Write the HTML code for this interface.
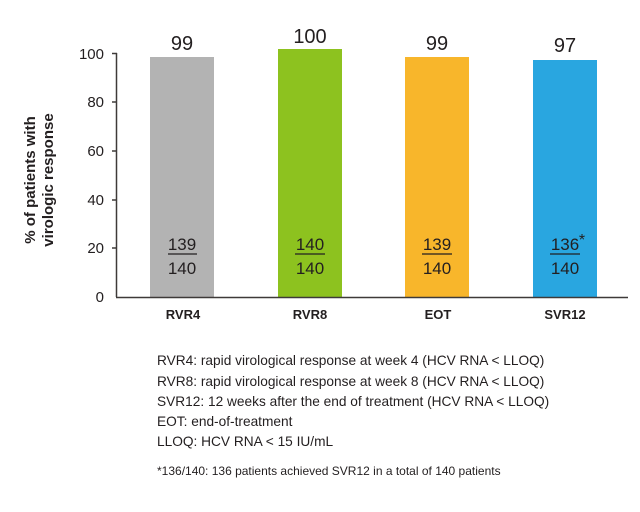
<!DOCTYPE html>
<html><head><style>body{margin:0;background:#fff}svg{display:block}</style></head><body>
<svg width="640" height="512" xmlns="http://www.w3.org/2000/svg" font-family="Liberation Sans, sans-serif" fill="#231f20">
<rect x="150" y="57" width="64" height="240" fill="#b3b3b3"/>
<rect x="278" y="49" width="64" height="248" fill="#8dc21f"/>
<rect x="405" y="57" width="64" height="240" fill="#f8b62b"/>
<rect x="533" y="60" width="64" height="237" fill="#29a6e0"/>
<g stroke="#3e3a39" stroke-width="1.5">
<line x1="116.5" y1="53" x2="116.5" y2="297"/>
<line x1="116" y1="297.5" x2="628" y2="297.5"/>
<line x1="112" y1="53.5" x2="117" y2="53.5"/>
<line x1="112" y1="102" x2="117" y2="102"/>
<line x1="112" y1="151" x2="117" y2="151"/>
<line x1="112" y1="200" x2="117" y2="200"/>
<line x1="112" y1="248" x2="117" y2="248"/>
</g>
<g font-size="15" text-anchor="end">
<text x="104" y="59">100</text><text x="104" y="107">80</text><text x="104" y="156">60</text>
<text x="104" y="205">40</text><text x="104" y="253">20</text><text x="104" y="302">0</text>
</g>
<g font-size="15" font-weight="bold" text-anchor="middle" transform="rotate(-90)">
<text x="-180" y="35">% of patients with</text><text x="-180" y="53">virologic response</text>
</g>
<g font-size="20" text-anchor="middle">
<text x="182" y="50">99</text><text x="310" y="43">100</text><text x="437" y="50">99</text><text x="565" y="52">97</text>
</g>
<g font-size="17" text-anchor="middle">
<text x="182" y="250">139</text><text x="182" y="274">140</text>
<text x="310" y="250">140</text><text x="310" y="274">140</text>
<text x="437" y="250">139</text><text x="437" y="274">140</text>
<text x="565" y="250">136</text><text x="565" y="274">140</text>
<text x="582" y="245" font-size="16">*</text>
</g>
<g stroke="#231f20" stroke-width="1.2">
<line x1="168" y1="254" x2="197" y2="254"/><line x1="295" y1="254" x2="325" y2="254"/>
<line x1="422" y1="254" x2="452" y2="254"/><line x1="550" y1="254" x2="580" y2="254"/>
</g>
<g font-size="13" font-weight="bold" text-anchor="middle">
<text x="183" y="319">RVR4</text><text x="310" y="319">RVR8</text><text x="438" y="319">EOT</text><text x="565" y="319">SVR12</text>
</g>
<g font-size="13.7">
<text x="157" y="365">RVR4: rapid virological response at week 4 (HCV RNA &lt; LLOQ)</text>
<text x="157" y="386">RVR8: rapid virological response at week 8 (HCV RNA &lt; LLOQ)</text>
<text x="157" y="406">SVR12: 12 weeks after the end of treatment  (HCV RNA &lt; LLOQ)</text>
<text x="157" y="426">EOT: end-of-treatment</text>
<text x="157" y="446">LLOQ: HCV RNA &lt; 15 IU/mL</text>
<text x="157" y="475" font-size="12">*136/140: 136 patients achieved SVR12 in a total of 140 patients</text>
</g>
</svg>
</body></html>
